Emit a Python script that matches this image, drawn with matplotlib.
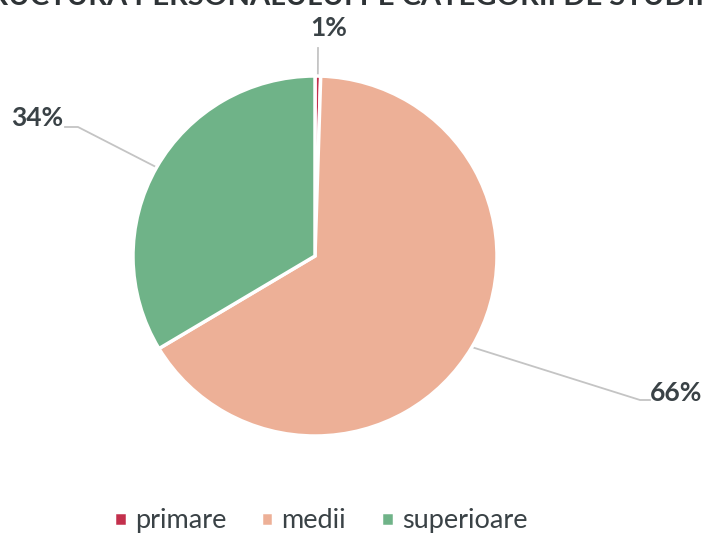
import numpy as np
import matplotlib
matplotlib.use("Agg")
import matplotlib.pyplot as plt

plt.rcParams['font.family'] = ['Lato', 'DejaVu Sans']

# date
categorii = ['primare', 'medii', 'superioare']
valori = [0.5, 65.9, 33.6]
etichete = ['1%', '66%', '34%']
culori = ['#C3304C', '#EDB097', '#6FB388']
titlu = 'STRUCTURA PERSONALULUI PE CATEGORII DE STUDII'

W, H = 705, 539
cx, cy = 315, 256      # centrul diagramei (pixeli)
rx, ry = 182, 180      # raze

fig = plt.figure(figsize=(W / 100, H / 100), dpi=100)
ax = fig.add_axes([0, 0, 1, 1])


def px(x, y):
    # pixeli -> coordonate de date
    return (x - cx) / rx, (cy - y) / ry


wedges, _ = ax.pie(valori, colors=culori, startangle=90, counterclock=False,
                   wedgeprops=dict(edgecolor='white', linewidth=2.5))
ax.set_aspect('auto')
ax.set_xlim(-cx / rx, (W - cx) / rx)
ax.set_ylim(-(H - cy) / ry, cy / ry)
ax.axis('off')

# pozitiile etichetelor (pixeli) si cotul liniei de ghidare
pozitii = [(329, 28), (676, 393), (37, 118)]
coturi = [(318, 48), (640, 400), (78, 127)]
capete = [(318, 48), (650, 400), (65, 127)]

for w, lab, pos, cot, cap in zip(wedges, etichete, pozitii, coturi, capete):
    mid = np.deg2rad((w.theta1 + w.theta2) / 2)
    ex, ey = np.cos(mid), np.sin(mid)
    xs = [ex, px(*cot)[0], px(*cap)[0]]
    ys = [ey, px(*cot)[1], px(*cap)[1]]
    ax.plot(xs, ys, color='#C4C4C4', lw=1.3, zorder=0)
    ax.text(*px(*pos), lab, ha='center', va='center', fontsize=19,
            fontweight='bold', color='#3A4246')

# titlu taiat sus (scanare)
fig.text(330 / W, 1 - 5 / H, titlu, ha='center', va='baseline', fontsize=21,
         fontweight='bold', color='#2E3336')

leg = ax.legend(wedges, categorii, loc='lower center', bbox_to_anchor=(0.455, -0.035),
                ncol=3, frameon=False, fontsize=19.5, handlelength=0.45,
                handleheight=0.45, columnspacing=1.3, handletextpad=0.3)
for t in leg.get_texts():
    t.set_color('#3A4246')

fig.savefig('out.png', dpi=100, facecolor='white')
